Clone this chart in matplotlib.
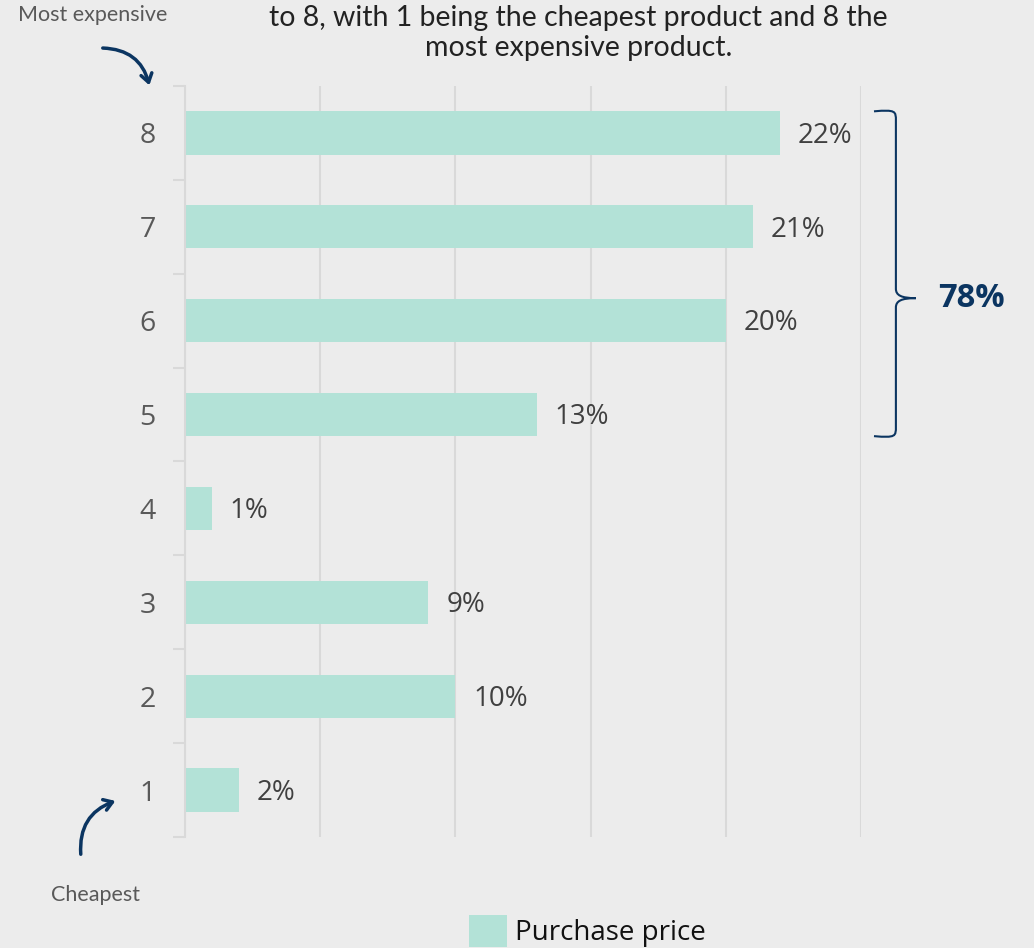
import numpy as np
import matplotlib.pyplot as plt
from matplotlib.path import Path
from matplotlib.patches import PathPatch, FancyArrowPatch

ranks = [1, 2, 3, 4, 5, 6, 7, 8]
shares = [2, 10, 9, 1, 13, 20, 21, 22]
series_name = "Purchase price"
top_group_label = "78%"

bg = "#ececec"
bar_color = "#b3e2d7"
navy = "#0b3561"
grid_color = "#d9d9d9"

fig = plt.figure(figsize=(10.34, 9.48), dpi=100, facecolor=bg)
ax = fig.add_axes([0.1789, 0.1171, 0.6538, 0.7922], facecolor=bg)

bars = ax.barh(ranks, shares, height=0.46, color=bar_color, label=series_name, zorder=2)
for r, v in zip(ranks, shares):
    ax.text(v + 0.66, r - 0.03, f"{v}%", va="center", ha="left", fontsize=20,
            color="#404040", family="Open Sans")

ax.set_xlim(0, 25)
ax.set_ylim(0.5, 8.5)
ax.set_xticks([0, 5, 10, 15, 20, 25])
ax.set_xticklabels([])
ax.tick_params(axis="x", length=0)
ax.grid(axis="x", color=grid_color, linewidth=1.5, zorder=0)

ax.set_yticks(ranks)
ax.set_yticklabels([str(r) for r in ranks], fontsize=20.5, color="#595959", family="Open Sans")
ax.set_yticks(np.arange(0.5, 9, 1), minor=True)
ax.tick_params(axis="y", which="major", length=0, pad=21)
ax.tick_params(axis="y", which="minor", length=9, color=grid_color, width=1.5)

for s in ["top", "right", "bottom"]:
    ax.spines[s].set_visible(False)
ax.spines["left"].set_color(grid_color)
ax.spines["left"].set_linewidth(1.5)

# brace around ranks 5-8
y0, y1 = 4.77, 8.23
ym = 6.24
xl, xe, xt = 26.29, 25.48, 27.03
verts = [
    (xe, y1), (xl, y1 + 0.02), (xl, y1), (xl, y1 - 0.1),
    (xl, ym + 0.1),
    (xl, ym + 0.03), (xl + 0.2, ym), (xt, ym),
    (xl + 0.2, ym), (xl, ym - 0.03), (xl, ym - 0.1),
    (xl, y0 + 0.1),
    (xl, y0), (xl, y0 - 0.02), (xe, y0),
]
codes = [Path.MOVETO, Path.CURVE4, Path.CURVE4, Path.CURVE4,
         Path.LINETO,
         Path.CURVE4, Path.CURVE4, Path.CURVE4,
         Path.CURVE4, Path.CURVE4, Path.CURVE4,
         Path.LINETO,
         Path.CURVE4, Path.CURVE4, Path.CURVE4]
ax.add_patch(PathPatch(Path(verts, codes), fill=False, edgecolor=navy,
                       linewidth=1.5, clip_on=False))
ax.text(27.85, ym, top_group_label, va="center", ha="left", fontsize=23.5,
        fontweight="bold", color=navy, family="Open Sans")

# title (continues above the visible area)
fig.text(0.5595, 0.9655, "to 8, with 1 being the cheapest product and 8 the\nmost expensive product.",
         ha="center", va="center", fontsize=20.5, color="#222222", family="Lato",
         linespacing=1.18)

fig.text(0.0175, 0.984, "Most expensive", ha="left", va="center", fontsize=15.5,
         color="#595959", family="Lato")
fig.text(0.092, 0.056, "Cheapest", ha="center", va="center", fontsize=15.5,
         color="#595959", family="Lato")

arrow_kw = dict(arrowstyle="->,head_length=6,head_width=4", color=navy, lw=2.5,
                transform=fig.transFigure)
fig.patches.append(FancyArrowPatch((100 / 1034, 1 - 48 / 948), (150 / 1034, 1 - 88 / 948),
                                   connectionstyle="arc3,rad=-0.4", **arrow_kw))
fig.patches.append(FancyArrowPatch((81 / 1034, 1 - 857 / 948), (118 / 1034, 1 - 800 / 948),
                                   connectionstyle="arc3,rad=-0.4", **arrow_kw))

fig.legend(handles=[bars], labels=[series_name], loc="center left",
           bbox_to_anchor=(0.4405, 0.0175), frameon=False,
           handlelength=1.37, handleheight=1.37, handletextpad=0.28, borderpad=0,
           labelcolor="#111111", prop={"family": "Open Sans", "size": 20})

fig.savefig("out.png", dpi=100, facecolor=bg)
